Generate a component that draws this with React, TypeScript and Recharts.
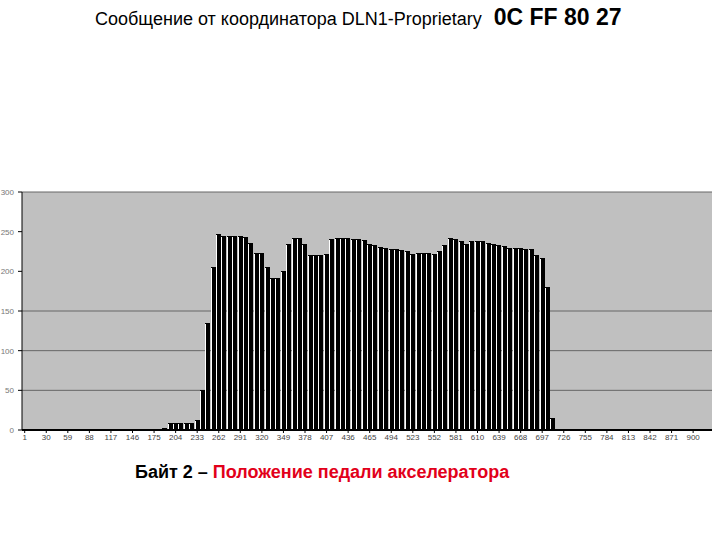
import React from 'react';
import { BarChart, Bar, XAxis, YAxis, CartesianGrid } from 'recharts';

// Подписи оси X (каждая 4-я категория)
const xTickLabels = [
  '1', '30', '59', '88', '117', '146', '175', '204', '233', '262', '291', '320', '349', '378', '407', '436',
  '465', '494', '523', '552', '581', '610', '639', '668', '697', '726', '755', '784', '813', '842', '871', '900'
];

const yTicks = [0, 50, 100, 150, 200, 250, 300];
const gridValues = [50, 100, 150, 300];

// Байт 2 – положение педали акселератора
const pedalValues = [
  0, 0, 0, 0, 0, 0, 0, 0, 0, 0, 0, 0, 0, 0, 0, 0, 0, 0, 0, 0, 0, 0, 0, 0, 0,
  1, 2, 9, 9, 9, 9, 9, 12, 50, 135, 205,
  247, 245, 244, 244, 244, 243, 236, 223, 223, 205, 191, 192, 200, 235,
  242, 242, 235, 221, 221, 221, 222, 241, 242, 242, 242, 241, 241, 239,
  235, 233, 231, 229, 228, 228, 227, 226, 222, 223, 223, 223, 222, 226,
  233, 242, 241, 238, 235, 238, 238, 238, 236, 235, 233, 232, 230, 230,
  229, 228, 228, 221, 217, 180, 15,
  0, 0, 0, 0, 0, 0, 0, 0, 0, 0, 0, 0, 0, 0, 0, 0, 0, 0, 0, 0, 0, 0, 0, 0, 0, 0, 0, 0, 0
];

const data = pedalValues.map((value, idx) => ({ idx, value }));

const FONT = '"Liberation Sans", Arial, sans-serif';

// чёрный столбик с белой полосой слева, как в исходной картинке
const StripedBar = (props: any) => {
  const { x, y, width, height } = props;
  if (!height || height <= 0) return null;
  const left = Math.round(x);
  const right = Math.round(x + width);
  const top = Math.round(y);
  const bottom = Math.round(y + height);
  return (
    <g>
      <rect x={left} y={top} width={right - left} height={bottom - top} fill="#000" />
      <line x1={left + 0.5} y1={top + 1} x2={left + 0.5} y2={bottom} stroke="#ffffff" strokeWidth={1} />
    </g>
  );
};

export default function App() {
  return (
    <div style={{ position: 'absolute', left: 0, top: 0, width: 720, height: 540, overflow: 'hidden', background: '#fff', fontFamily: FONT }}>
      <div style={{ position: 'absolute', left: 95, top: 6, whiteSpace: 'nowrap', lineHeight: 1 }}>
        <span style={{ fontSize: 18, color: '#000' }}>Сообщение от координатора DLN1-Proprietary</span>
        <span style={{ fontSize: 23, fontWeight: 'bold', color: '#000', marginLeft: 12 }}>0C FF 80 27</span>
      </div>

      <div style={{ position: 'absolute', left: 0, top: 0 }}>
        <BarChart
          width={720}
          height={450}
          data={data}
          barCategoryGap={0}
          margin={{ top: 192, right: 8, left: 0, bottom: 0 }}
        >
          <CartesianGrid
            vertical={false}
            horizontalValues={gridValues}
            fill="#C0C0C0"
            fillOpacity={1}
            stroke="#666666"
          />
          <XAxis
            dataKey="idx"
            type="category"
            interval={3}
            height={20}
            tickFormatter={(v: number) => xTickLabels[v / 4] ?? ''}
            tick={{ fontSize: 8, fill: '#444', fontFamily: FONT }}
            tickSize={3}
            tickMargin={1}
            tickLine={{ stroke: '#000' }}
            axisLine={{ stroke: '#000', strokeWidth: 2 }}
          />
          <YAxis
            domain={[0, 300]}
            ticks={yTicks}
            width={22}
            tick={{ fontSize: 8, fill: '#777', fontFamily: FONT }}
            tickSize={4}
            tickMargin={4}
            tickLine={{ stroke: '#000' }}
            axisLine={{ stroke: '#000' }}
          />
          <YAxis
            yAxisId="right"
            orientation="right"
            domain={[0, 300]}
            width={0}
            tick={false}
            tickLine={false}
            axisLine={{ stroke: '#666666' }}
          />
          <Bar dataKey="value" fill="#000" shape={StripedBar} isAnimationActive={false} />
        </BarChart>
      </div>

      <div style={{ position: 'absolute', left: 135, top: 463, whiteSpace: 'nowrap', lineHeight: 1, fontSize: 18, fontWeight: 'bold' }}>
        <span style={{ color: '#000' }}>Байт 2 – </span>
        <span style={{ color: '#e2001a' }}>Положение педали акселератора</span>
      </div>
    </div>
  );
}
